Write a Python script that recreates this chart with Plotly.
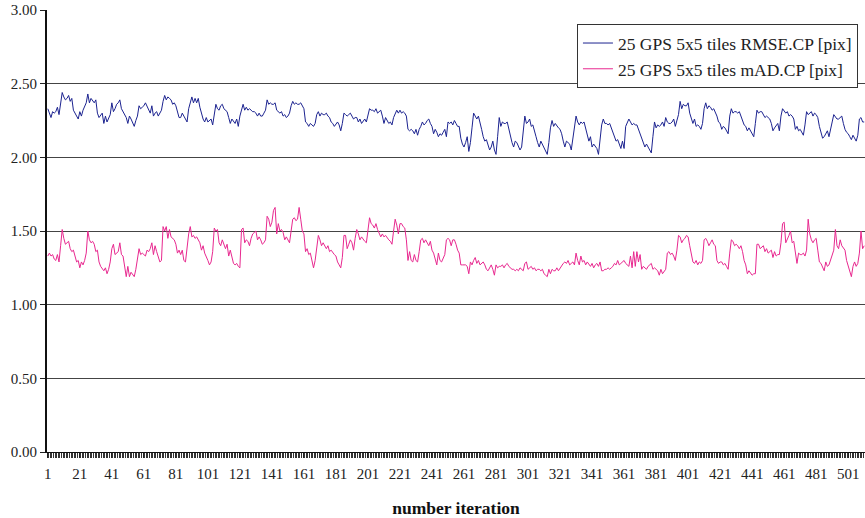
import plotly.graph_objects as go

rmse = [
 2.33,2.30,2.27,2.31,2.30,2.31,2.34,2.29,2.37,2.44,
 2.41,2.39,2.40,2.42,2.38,2.40,2.32,2.30,2.28,2.26,
 2.31,2.28,2.32,2.35,2.37,2.43,2.37,2.40,2.38,2.37,
 2.39,2.30,2.27,2.29,2.30,2.23,2.28,2.24,2.26,2.29,
 2.37,2.31,2.33,2.36,2.37,2.39,2.33,2.31,2.30,2.27,
 2.23,2.28,2.26,2.24,2.21,2.25,2.28,2.35,2.33,2.34,
 2.35,2.37,2.35,2.33,2.30,2.35,2.28,2.30,2.31,2.28,
 2.30,2.32,2.38,2.42,2.39,2.41,2.40,2.39,2.36,2.37,
 2.35,2.31,2.27,2.27,2.30,2.28,2.26,2.24,2.33,2.38,
 2.41,2.37,2.40,2.37,2.40,2.34,2.29,2.26,2.24,2.27,
 2.24,2.25,2.26,2.22,2.29,2.36,2.33,2.32,2.35,2.36,
 2.33,2.32,2.31,2.27,2.23,2.26,2.24,2.23,2.26,2.21,
 2.28,2.33,2.36,2.32,2.34,2.32,2.33,2.32,2.31,2.31,
 2.30,2.28,2.30,2.28,2.28,2.30,2.32,2.39,2.36,2.37,
 2.36,2.36,2.37,2.32,2.31,2.30,2.31,2.28,2.29,2.27,
 2.28,2.30,2.35,2.38,2.36,2.37,2.36,2.36,2.37,2.35,
 2.33,2.24,2.23,2.21,2.23,2.22,2.21,2.23,2.29,2.31,
 2.28,2.30,2.29,2.29,2.30,2.28,2.27,2.24,2.23,2.21,
 2.23,2.24,2.22,2.18,2.23,2.30,2.29,2.28,2.29,2.30,
 2.28,2.26,2.27,2.27,2.24,2.26,2.23,2.25,2.26,2.24,
 2.28,2.33,2.32,2.32,2.31,2.33,2.30,2.31,2.32,2.28,
 2.23,2.27,2.25,2.23,2.24,2.22,2.27,2.30,2.32,2.30,
 2.32,2.30,2.31,2.30,2.28,2.19,2.18,2.19,2.18,2.16,
 2.19,2.15,2.19,2.21,2.24,2.22,2.23,2.25,2.26,2.23,
 2.21,2.16,2.19,2.17,2.14,2.16,2.15,2.17,2.19,2.14,
 2.24,2.23,2.24,2.22,2.25,2.23,2.21,2.21,2.13,2.09,
 2.07,2.10,2.14,2.04,2.10,2.20,2.30,2.28,2.26,2.28,
 2.24,2.19,2.14,2.11,2.12,2.08,2.05,2.07,2.11,2.05,
 2.02,2.14,2.27,2.21,2.24,2.23,2.23,2.24,2.19,2.13,
 2.10,2.07,2.11,2.10,2.07,2.05,2.07,2.19,2.28,2.23,
 2.24,2.26,2.21,2.22,2.17,2.14,2.10,2.07,2.11,2.09,
 2.07,2.05,2.02,2.10,2.20,2.25,2.21,2.23,2.21,2.20,
 2.19,2.16,2.11,2.07,2.11,2.10,2.09,2.05,2.12,2.20,
 2.28,2.24,2.22,2.24,2.23,2.24,2.19,2.15,2.11,2.14,
 2.07,2.09,2.07,2.06,2.02,2.12,2.22,2.26,2.23,2.23,
 2.22,2.23,2.20,2.18,2.14,2.11,2.12,2.09,2.06,2.11,
 2.06,2.21,2.24,2.26,2.24,2.22,2.23,2.22,2.22,2.19,
 2.16,2.12,2.09,2.07,2.09,2.07,2.05,2.03,2.14,2.24,
 2.20,2.22,2.21,2.22,2.24,2.21,2.27,2.24,2.23,2.23,
 2.24,2.26,2.21,2.25,2.29,2.38,2.33,2.36,2.35,2.35,
 2.37,2.30,2.26,2.23,2.26,2.21,2.22,2.21,2.19,2.23,
 2.33,2.37,2.33,2.35,2.34,2.32,2.33,2.31,2.28,2.24,
 2.23,2.19,2.21,2.20,2.18,2.16,2.28,2.33,2.30,2.31,
 2.31,2.30,2.31,2.28,2.25,2.22,2.21,2.18,2.20,2.18,
 2.16,2.14,2.23,2.32,2.30,2.31,2.31,2.29,2.27,2.28,
 2.27,2.26,2.23,2.18,2.20,2.22,2.23,2.18,2.28,2.33,
 2.31,2.30,2.31,2.28,2.29,2.28,2.26,2.19,2.21,2.18,
 2.19,2.17,2.15,2.22,2.31,2.29,2.30,2.31,2.28,2.30,
 2.29,2.27,2.21,2.16,2.13,2.14,2.16,2.18,2.14,2.20,
 2.24,2.29,2.27,2.26,2.26,2.27,2.28,2.23,2.19,2.17,
 2.16,2.14,2.12,2.15,2.13,2.11,2.15,2.26,2.27,2.24,
 2.24,
]

mad = [
 1.33,1.35,1.33,1.34,1.31,1.30,1.34,1.29,1.40,1.51,
 1.45,1.41,1.42,1.43,1.38,1.36,1.37,1.33,1.29,1.30,
 1.25,1.29,1.27,1.30,1.35,1.50,1.44,1.42,1.43,1.41,
 1.36,1.37,1.29,1.26,1.24,1.23,1.25,1.21,1.24,1.29,
 1.38,1.41,1.34,1.35,1.36,1.42,1.34,1.33,1.25,1.19,
 1.26,1.19,1.22,1.20,1.19,1.24,1.30,1.38,1.34,1.35,
 1.34,1.33,1.37,1.36,1.38,1.42,1.34,1.40,1.36,1.33,
 1.29,1.30,1.53,1.50,1.53,1.45,1.51,1.46,1.45,1.44,
 1.41,1.35,1.37,1.34,1.37,1.30,1.29,1.40,1.48,1.53,
 1.46,1.47,1.45,1.46,1.44,1.42,1.37,1.40,1.35,1.33,
 1.30,1.27,1.29,1.36,1.52,1.50,1.51,1.42,1.40,1.44,
 1.41,1.38,1.41,1.33,1.37,1.33,1.28,1.27,1.28,1.26,
 1.25,1.51,1.52,1.42,1.44,1.43,1.40,1.45,1.48,1.49,
 1.50,1.44,1.46,1.44,1.41,1.42,1.44,1.60,1.58,1.53,
 1.56,1.64,1.66,1.48,1.55,1.50,1.51,1.49,1.44,1.46,
 1.44,1.42,1.50,1.58,1.59,1.57,1.58,1.66,1.58,1.50,
 1.48,1.36,1.38,1.34,1.35,1.29,1.25,1.30,1.37,1.47,
 1.44,1.40,1.42,1.40,1.38,1.40,1.36,1.37,1.35,1.34,
 1.33,1.29,1.27,1.25,1.32,1.47,1.47,1.38,1.41,1.44,
 1.42,1.37,1.45,1.51,1.48,1.44,1.46,1.44,1.43,1.42,
 1.52,1.59,1.55,1.54,1.52,1.55,1.51,1.48,1.46,1.48,
 1.46,1.47,1.45,1.44,1.43,1.41,1.50,1.58,1.54,1.48,
 1.55,1.55,1.53,1.52,1.44,1.30,1.36,1.30,1.29,1.34,
 1.30,1.29,1.36,1.44,1.45,1.42,1.44,1.42,1.40,1.43,
 1.37,1.35,1.31,1.27,1.35,1.30,1.29,1.31,1.34,1.44,
 1.45,1.44,1.40,1.44,1.44,1.41,1.37,1.35,1.27,1.27,
 1.27,1.27,1.26,1.21,1.29,1.27,1.30,1.32,1.28,1.30,
 1.27,1.28,1.29,1.27,1.24,1.23,1.25,1.27,1.24,1.20,
 1.27,1.25,1.26,1.26,1.27,1.25,1.27,1.28,1.26,1.25,
 1.24,1.24,1.23,1.24,1.23,1.25,1.24,1.23,1.28,1.29,
 1.24,1.25,1.26,1.24,1.25,1.23,1.24,1.24,1.23,1.24,
 1.21,1.20,1.19,1.24,1.21,1.24,1.23,1.23,1.25,1.23,
 1.25,1.26,1.28,1.29,1.28,1.30,1.27,1.28,1.29,1.27,
 1.35,1.30,1.27,1.33,1.29,1.30,1.27,1.29,1.27,1.26,
 1.28,1.25,1.27,1.28,1.26,1.29,1.23,1.23,1.24,1.24,
 1.25,1.24,1.25,1.26,1.28,1.27,1.30,1.27,1.28,1.29,
 1.30,1.28,1.27,1.26,1.33,1.25,1.36,1.26,1.36,1.29,
 1.34,1.24,1.26,1.25,1.24,1.26,1.27,1.28,1.24,1.25,
 1.24,1.23,1.20,1.24,1.21,1.23,1.24,1.35,1.36,1.34,
 1.35,1.33,1.30,1.37,1.47,1.46,1.42,1.44,1.45,1.47,
 1.46,1.40,1.33,1.29,1.28,1.30,1.27,1.29,1.28,1.30,
 1.44,1.45,1.43,1.40,1.42,1.44,1.41,1.40,1.30,1.28,
 1.29,1.29,1.27,1.28,1.26,1.24,1.35,1.44,1.43,1.40,
 1.41,1.40,1.38,1.40,1.36,1.30,1.27,1.21,1.23,1.21,
 1.20,1.21,1.21,1.41,1.41,1.38,1.39,1.40,1.36,1.38,
 1.35,1.36,1.37,1.32,1.36,1.33,1.34,1.34,1.42,1.55,
 1.56,1.42,1.44,1.47,1.50,1.42,1.43,1.34,1.28,1.35,
 1.34,1.34,1.35,1.33,1.37,1.58,1.48,1.44,1.42,1.44,
 1.45,1.37,1.29,1.28,1.26,1.23,1.29,1.26,1.27,1.30,
 1.33,1.37,1.51,1.40,1.38,1.44,1.40,1.38,1.37,1.30,
 1.26,1.23,1.19,1.26,1.29,1.26,1.28,1.35,1.50,1.38,
 1.40,
]

iterations = list(range(1, len(rmse) + 1))
iterations_mad = list(range(1, len(mad) + 1))

x_tick_vals = [1, 21, 41, 61, 81, 101, 121, 141, 161, 181, 201, 221, 241,
               261, 281, 301, 321, 341, 361, 381, 401, 421, 441, 461, 481, 501]
x_tick_text = ["1", "21", "41", "61", "81", "101", "121", "141", "161", "181",
               "201", "221", "241", "261", "281", "301", "321", "341", "361",
               "381", "401", "421", "441", "461", "481", "501"]
y_tick_vals = [0.0, 0.5, 1.0, 1.5, 2.0, 2.5, 3.0]

series_names = ["25 GPS 5x5 tiles RMSE.CP [pix]", "25 GPS 5x5 tiles mAD.CP [pix]"]

FONT = "Liberation Serif, Times New Roman, serif"

fig = go.Figure()
fig.add_trace(go.Scatter(x=iterations, y=rmse, mode="lines", name=series_names[0],
                         line=dict(color="#1C2390", width=1)))
fig.add_trace(go.Scatter(x=iterations_mad, y=mad, mode="lines", name=series_names[1],
                         line=dict(color="#E8288F", width=1)))

fig.update_layout(
    width=865, height=518,
    margin=dict(l=47, r=0, t=10, b=66, autoexpand=False),
    paper_bgcolor="white", plot_bgcolor="white",
    font=dict(family=FONT, size=15, color="#222"),
    showlegend=True,
    legend=dict(x=0.9914, xanchor="right", y=0.968, yanchor="top",
                bgcolor="white", bordercolor="#333", borderwidth=1,
                font=dict(family=FONT, size=17.5, color="#222"),
                tracegroupgap=0, itemwidth=30),
)

fig.update_xaxes(
    range=[0.5, len(rmse) + 0.5], automargin=False,
    tickmode="array", tickvals=x_tick_vals, ticktext=x_tick_text,
    ticks="outside", ticklen=5, tickcolor="#222", tickwidth=1,
    ticklabelstandoff=3,
    minor=dict(ticks="outside", ticklen=5, tickcolor="#333", tickwidth=1,
               dtick=1, tick0=0.5, showgrid=False),
    showline=True, linecolor="#111", linewidth=1,
    showgrid=False, zeroline=False,
    tickfont=dict(family=FONT, size=15, color="#222"),
    title=dict(text="<b>number iteration</b>", standoff=21,
               font=dict(family=FONT, size=17.5, color="#111")),
)

fig.update_yaxes(
    range=[0, 3], automargin=False,
    tickmode="array", tickvals=y_tick_vals, tickformat=".2f",
    ticks="outside", ticklen=5, tickcolor="#222",
    showline=True, linecolor="#111", linewidth=2,
    showgrid=True, gridcolor="#444", gridwidth=1, zeroline=False,
    tickfont=dict(family=FONT, size=15, color="#222"),
)

fig.write_html(
    "out.html",
    config={"displayModeBar": False},
    post_script="document.body.style.margin='0';document.body.style.overflow='hidden';",
)
